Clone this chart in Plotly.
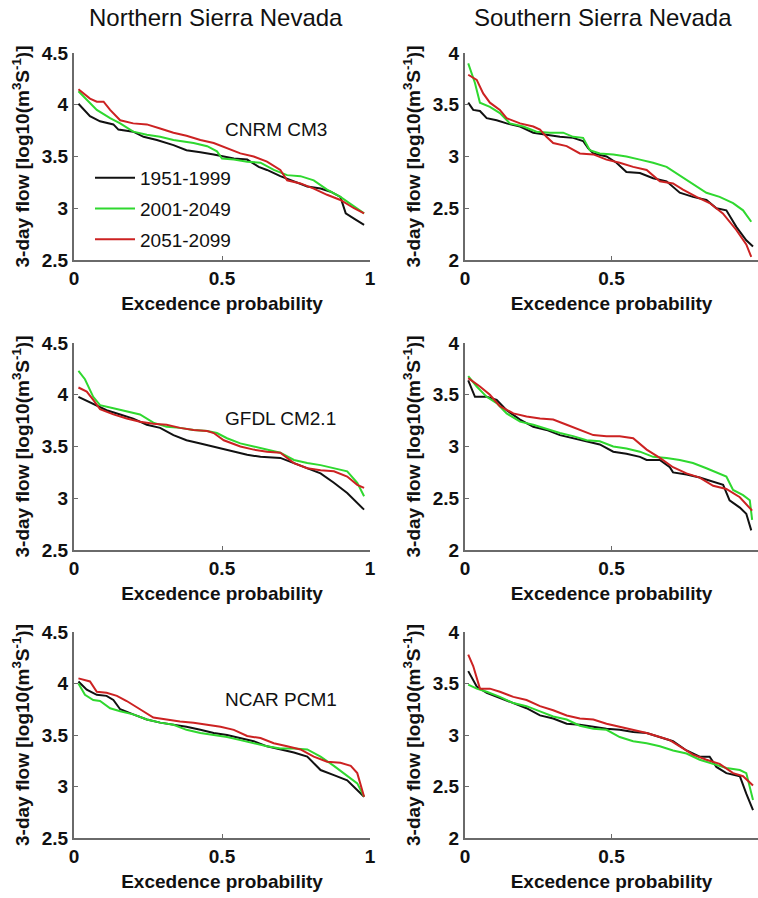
import plotly.graph_objects as go

W, H = 758, 898

periods = ["1951-1999", "2001-2049", "2051-2099"]
colors = ["#111111", "#2fd82f", "#cc2222"]
models = ["CNRM CM3", "GFDL CM2.1", "NCAR PCM1"]
regions = ["Northern Sierra Nevada", "Southern Sierra Nevada"]

# ---- Northern Sierra Nevada, CNRM CM3 ----
n_cnrm_1951_x = [0.015, 0.054, 0.088, 0.133, 0.15, 0.2, 0.235, 0.28, 0.336, 0.38, 0.427, 0.472, 0.54, 0.585, 0.624, 0.652, 0.697, 0.743, 0.788, 0.833, 0.867, 0.9, 0.918, 0.946, 0.98]
n_cnrm_1951_y = [4.01, 3.89, 3.84, 3.81, 3.76, 3.74, 3.69, 3.66, 3.61, 3.56, 3.54, 3.52, 3.48, 3.47, 3.40, 3.37, 3.31, 3.26, 3.21, 3.19, 3.16, 3.11, 2.95, 2.90, 2.84]
n_cnrm_2001_x = [0.015, 0.043, 0.077, 0.122, 0.156, 0.2, 0.246, 0.291, 0.336, 0.404, 0.45, 0.483, 0.5, 0.54, 0.585, 0.63, 0.675, 0.72, 0.765, 0.81, 0.855, 0.9, 0.946, 0.98]
n_cnrm_2001_y = [4.13, 4.05, 3.95, 3.87, 3.82, 3.74, 3.71, 3.69, 3.66, 3.63, 3.60, 3.55, 3.48, 3.47, 3.45, 3.44, 3.37, 3.32, 3.31, 3.27, 3.18, 3.11, 3.02, 2.95]
n_cnrm_2051_x = [0.015, 0.054, 0.077, 0.1, 0.122, 0.156, 0.2, 0.246, 0.291, 0.336, 0.38, 0.427, 0.472, 0.517, 0.562, 0.607, 0.652, 0.697, 0.72, 0.765, 0.81, 0.855, 0.9, 0.946, 0.98]
n_cnrm_2051_y = [4.15, 4.06, 4.03, 4.03, 3.95, 3.85, 3.82, 3.81, 3.77, 3.73, 3.70, 3.66, 3.63, 3.58, 3.53, 3.50, 3.45, 3.37, 3.27, 3.24, 3.19, 3.13, 3.08, 3.00, 2.95]

# ---- Southern Sierra Nevada, CNRM CM3 ----
s_cnrm_1951_x = [0.011, 0.028, 0.051, 0.074, 0.108, 0.142, 0.188, 0.233, 0.278, 0.324, 0.369, 0.403, 0.42, 0.438, 0.483, 0.517, 0.551, 0.597, 0.642, 0.688, 0.733, 0.778, 0.824, 0.858, 0.892, 0.926, 0.96, 0.983]
s_cnrm_1951_y = [3.52, 3.45, 3.44, 3.37, 3.35, 3.32, 3.29, 3.23, 3.21, 3.19, 3.18, 3.15, 3.08, 3.03, 3.00, 2.94, 2.85, 2.84, 2.79, 2.76, 2.65, 2.61, 2.58, 2.50, 2.48, 2.32, 2.19, 2.13]
s_cnrm_2001_x = [0.011, 0.034, 0.051, 0.085, 0.119, 0.153, 0.199, 0.244, 0.29, 0.335, 0.369, 0.403, 0.426, 0.46, 0.506, 0.551, 0.597, 0.642, 0.688, 0.733, 0.778, 0.824, 0.869, 0.915, 0.949, 0.977]
s_cnrm_2001_y = [3.90, 3.71, 3.52, 3.48, 3.42, 3.32, 3.29, 3.24, 3.23, 3.23, 3.19, 3.18, 3.06, 3.03, 3.02, 3.00, 2.97, 2.94, 2.90, 2.82, 2.74, 2.65, 2.61, 2.55, 2.48, 2.37]
s_cnrm_2051_x = [0.011, 0.04, 0.062, 0.085, 0.119, 0.142, 0.188, 0.233, 0.256, 0.278, 0.301, 0.347, 0.392, 0.438, 0.483, 0.528, 0.574, 0.62, 0.665, 0.71, 0.744, 0.79, 0.835, 0.88, 0.926, 0.96, 0.977]
s_cnrm_2051_y = [3.79, 3.74, 3.61, 3.52, 3.45, 3.37, 3.32, 3.29, 3.26, 3.19, 3.13, 3.10, 3.03, 3.02, 2.97, 2.94, 2.90, 2.87, 2.76, 2.74, 2.68, 2.61, 2.55, 2.45, 2.29, 2.15, 2.03]

# ---- Northern Sierra Nevada, GFDL CM2.1 ----
n_gfdl_1951_x = [0.015, 0.043, 0.077, 0.11, 0.156, 0.2, 0.246, 0.291, 0.336, 0.38, 0.427, 0.472, 0.54, 0.585, 0.63, 0.697, 0.743, 0.788, 0.833, 0.878, 0.923, 0.98]
n_gfdl_1951_y = [3.98, 3.94, 3.89, 3.85, 3.81, 3.77, 3.71, 3.68, 3.61, 3.56, 3.53, 3.50, 3.45, 3.42, 3.40, 3.39, 3.34, 3.29, 3.24, 3.15, 3.05, 2.89]
n_gfdl_2001_x = [0.015, 0.037, 0.065, 0.088, 0.133, 0.178, 0.223, 0.268, 0.313, 0.358, 0.404, 0.45, 0.483, 0.517, 0.562, 0.607, 0.652, 0.697, 0.743, 0.788, 0.833, 0.878, 0.923, 0.957, 0.98]
n_gfdl_2001_y = [4.23, 4.15, 3.98, 3.90, 3.87, 3.84, 3.81, 3.73, 3.69, 3.68, 3.66, 3.65, 3.63, 3.58, 3.53, 3.50, 3.47, 3.44, 3.37, 3.34, 3.32, 3.29, 3.26, 3.15, 3.02]
n_gfdl_2051_x = [0.015, 0.043, 0.065, 0.088, 0.133, 0.178, 0.223, 0.268, 0.313, 0.358, 0.404, 0.45, 0.472, 0.506, 0.562, 0.607, 0.652, 0.697, 0.743, 0.788, 0.833, 0.878, 0.923, 0.957, 0.98]
n_gfdl_2051_y = [4.07, 4.03, 3.95, 3.86, 3.81, 3.77, 3.74, 3.72, 3.71, 3.68, 3.66, 3.65, 3.63, 3.56, 3.50, 3.47, 3.45, 3.44, 3.34, 3.29, 3.27, 3.26, 3.21, 3.13, 3.10]

# ---- Southern Sierra Nevada, GFDL CM2.1 ----
s_gfdl_1951_x = [0.011, 0.034, 0.074, 0.108, 0.142, 0.188, 0.233, 0.278, 0.324, 0.369, 0.415, 0.46, 0.506, 0.551, 0.597, 0.62, 0.665, 0.699, 0.71, 0.756, 0.801, 0.847, 0.881, 0.903, 0.938, 0.96, 0.977]
s_gfdl_1951_y = [3.64, 3.48, 3.48, 3.45, 3.35, 3.26, 3.19, 3.16, 3.11, 3.08, 3.05, 3.02, 2.95, 2.93, 2.90, 2.87, 2.87, 2.80, 2.75, 2.73, 2.70, 2.66, 2.63, 2.48, 2.41, 2.35, 2.19]
s_gfdl_2001_x = [0.011, 0.04, 0.074, 0.108, 0.142, 0.188, 0.233, 0.278, 0.324, 0.369, 0.415, 0.46, 0.506, 0.551, 0.597, 0.642, 0.688, 0.733, 0.778, 0.824, 0.869, 0.892, 0.915, 0.949, 0.972, 0.98]
s_gfdl_2001_y = [3.68, 3.58, 3.48, 3.42, 3.32, 3.24, 3.21, 3.17, 3.13, 3.10, 3.06, 3.05, 3.00, 2.98, 2.95, 2.90, 2.89, 2.87, 2.84, 2.79, 2.74, 2.71, 2.58, 2.53, 2.48, 2.29]
s_gfdl_2051_x = [0.011, 0.051, 0.085, 0.119, 0.165, 0.21, 0.256, 0.301, 0.347, 0.392, 0.438, 0.483, 0.528, 0.574, 0.62, 0.665, 0.71, 0.756, 0.801, 0.847, 0.892, 0.938, 0.98]
s_gfdl_2051_y = [3.66, 3.58, 3.50, 3.39, 3.32, 3.29, 3.27, 3.26, 3.21, 3.16, 3.11, 3.10, 3.10, 3.08, 2.97, 2.89, 2.80, 2.74, 2.70, 2.62, 2.59, 2.51, 2.38]

# ---- Northern Sierra Nevada, NCAR PCM1 ----
n_ncar_1951_x = [0.015, 0.043, 0.077, 0.11, 0.133, 0.156, 0.2, 0.246, 0.291, 0.336, 0.38, 0.427, 0.472, 0.517, 0.562, 0.607, 0.652, 0.697, 0.743, 0.788, 0.81, 0.833, 0.878, 0.923, 0.98]
n_ncar_1951_y = [4.02, 3.94, 3.89, 3.88, 3.84, 3.75, 3.70, 3.65, 3.62, 3.60, 3.58, 3.55, 3.52, 3.50, 3.47, 3.44, 3.39, 3.36, 3.33, 3.29, 3.23, 3.16, 3.11, 3.06, 2.90]
n_ncar_2001_x = [0.015, 0.037, 0.065, 0.088, 0.122, 0.156, 0.2, 0.246, 0.291, 0.336, 0.38, 0.427, 0.472, 0.517, 0.562, 0.607, 0.652, 0.697, 0.743, 0.788, 0.833, 0.878, 0.923, 0.957, 0.98]
n_ncar_2001_y = [4.00, 3.89, 3.84, 3.83, 3.76, 3.73, 3.70, 3.65, 3.62, 3.60, 3.55, 3.52, 3.50, 3.48, 3.45, 3.42, 3.39, 3.37, 3.37, 3.36, 3.29, 3.20, 3.10, 3.03, 2.90]
n_ncar_2051_x = [0.015, 0.054, 0.077, 0.11, 0.145, 0.178, 0.223, 0.268, 0.313, 0.358, 0.404, 0.45, 0.495, 0.54, 0.585, 0.63, 0.675, 0.72, 0.765, 0.81, 0.855, 0.9, 0.935, 0.957, 0.98]
n_ncar_2051_y = [4.05, 4.02, 3.92, 3.91, 3.88, 3.83, 3.75, 3.67, 3.65, 3.63, 3.62, 3.60, 3.58, 3.55, 3.49, 3.47, 3.42, 3.39, 3.36, 3.29, 3.24, 3.23, 3.20, 3.13, 2.90]

# ---- Southern Sierra Nevada, NCAR PCM1 ----
s_ncar_1951_x = [0.011, 0.04, 0.074, 0.119, 0.165, 0.21, 0.256, 0.301, 0.347, 0.392, 0.438, 0.483, 0.528, 0.574, 0.62, 0.665, 0.71, 0.756, 0.801, 0.835, 0.858, 0.892, 0.938, 0.96, 0.983]
s_ncar_1951_y = [3.62, 3.47, 3.41, 3.36, 3.31, 3.26, 3.19, 3.16, 3.11, 3.10, 3.08, 3.06, 3.05, 3.03, 3.02, 2.98, 2.94, 2.85, 2.79, 2.79, 2.69, 2.63, 2.60, 2.43, 2.27]
s_ncar_2001_x = [0.011, 0.04, 0.074, 0.119, 0.165, 0.21, 0.256, 0.301, 0.347, 0.392, 0.438, 0.483, 0.528, 0.574, 0.62, 0.665, 0.71, 0.756, 0.801, 0.847, 0.892, 0.938, 0.96, 0.983]
s_ncar_2001_y = [3.49, 3.45, 3.42, 3.37, 3.31, 3.28, 3.23, 3.18, 3.15, 3.09, 3.06, 3.05, 2.98, 2.94, 2.92, 2.89, 2.85, 2.82, 2.76, 2.72, 2.68, 2.66, 2.63, 2.37]
s_ncar_2051_x = [0.011, 0.028, 0.051, 0.085, 0.119, 0.165, 0.21, 0.256, 0.301, 0.347, 0.392, 0.438, 0.483, 0.528, 0.574, 0.62, 0.665, 0.699, 0.733, 0.778, 0.824, 0.869, 0.915, 0.949, 0.983]
s_ncar_2051_y = [3.78, 3.67, 3.45, 3.45, 3.42, 3.37, 3.34, 3.28, 3.24, 3.19, 3.16, 3.15, 3.11, 3.08, 3.05, 3.02, 2.98, 2.95, 2.89, 2.81, 2.76, 2.72, 2.63, 2.60, 2.51]

panels = [
    (0, 0, [(n_cnrm_1951_x, n_cnrm_1951_y), (n_cnrm_2001_x, n_cnrm_2001_y), (n_cnrm_2051_x, n_cnrm_2051_y)]),
    (0, 1, [(s_cnrm_1951_x, s_cnrm_1951_y), (s_cnrm_2001_x, s_cnrm_2001_y), (s_cnrm_2051_x, s_cnrm_2051_y)]),
    (1, 0, [(n_gfdl_1951_x, n_gfdl_1951_y), (n_gfdl_2001_x, n_gfdl_2001_y), (n_gfdl_2051_x, n_gfdl_2051_y)]),
    (1, 1, [(s_gfdl_1951_x, s_gfdl_1951_y), (s_gfdl_2001_x, s_gfdl_2001_y), (s_gfdl_2051_x, s_gfdl_2051_y)]),
    (2, 0, [(n_ncar_1951_x, n_ncar_1951_y), (n_ncar_2001_x, n_ncar_2001_y), (n_ncar_2051_x, n_ncar_2051_y)]),
    (2, 1, [(s_ncar_1951_x, s_ncar_1951_y), (s_ncar_2001_x, s_ncar_2001_y), (s_ncar_2051_x, s_ncar_2051_y)]),
]

x_tickvals = [0, 0.5, 1]
x_ticktext = ["0", "0.5", "1"]
y_ticks_north = [2.5, 3, 3.5, 4, 4.5]
y_ticks_south = [2, 2.5, 3, 3.5, 4]

# panel pixel geometry (left, right, top, bottom)
col_px = [(74, 370), (465, 758)]
row_px = [(53, 260), (343, 550), (632, 838)]

fig = go.Figure()
axis_color = "#6a6a6a"
FONT = "Liberation Sans, Arial, sans-serif"
tick_font = dict(family=FONT, size=19, color="#111111", weight="bold")
title_font = dict(family=FONT, size=19, color="#111111", weight="bold")

layout = {}
for idx, (r, c, series) in enumerate(panels):
    n = idx + 1
    xa = "xaxis" if n == 1 else f"xaxis{n}"
    ya = "yaxis" if n == 1 else f"yaxis{n}"
    xr = "x" if n == 1 else f"x{n}"
    yr = "y" if n == 1 else f"y{n}"
    for k, (xs, ys) in enumerate(series):
        fig.add_trace(go.Scatter(
            x=xs, y=ys, mode="lines", xaxis=xr, yaxis=yr,
            line=dict(color=colors[k], width=2),
            name=periods[k], showlegend=(idx == 0),
            legendgroup=periods[k],
        ))
    l, rr = col_px[c]
    t, b = row_px[r]
    yticks = y_ticks_north if c == 0 else y_ticks_south
    layout[xa] = dict(
        domain=[l / W, rr / W], range=[0, 1], anchor=yr, automargin=False,
        showline=True, linecolor=axis_color, linewidth=2, mirror=False,
        ticks="inside", ticklen=4, tickcolor=axis_color, tickwidth=1,
        tickvals=x_tickvals, ticktext=x_ticktext, tickfont=tick_font,
        showgrid=False, zeroline=False,
        title=dict(text="Excedence probability", font=title_font, standoff=9),
    )
    layout[ya] = dict(
        domain=[1 - b / H, 1 - t / H], range=[yticks[0], yticks[-1]], anchor=xr, automargin=False,
        showline=True, linecolor=axis_color, linewidth=2, mirror=False,
        ticks="inside", ticklen=4, tickcolor=axis_color, tickwidth=1,
        tickvals=yticks, tickfont=tick_font,
        showgrid=False, zeroline=False,
        title=dict(text="3-day flow [log10(m<sup>3</sup>S<sup>-1</sup>)]", font=title_font, standoff=7),
    )

annotations = []
for c, name in enumerate(regions):
    cx = (216 if c == 0 else 603) / W
    annotations.append(dict(
        text=name, x=cx, y=1 - 18 / H, xref="paper", yref="paper",
        xanchor="center", yanchor="middle", showarrow=False,
        font=dict(family=FONT, size=24, color="#111111"),
    ))
model_pos = [("x", "y", 3.756), ("x3", "y3", 3.775), ("x5", "y5", 3.84)]
for (xr, yr, yv), m in zip(model_pos, models):
    annotations.append(dict(
        text=m, x=0.503, y=yv, xref=f"{xr} domain", yref=yr,
        xanchor="left", yanchor="middle", showarrow=False,
        font=dict(family=FONT, size=19, color="#111111"),
    ))

fig.update_layout(
    width=W, height=H,
    margin=dict(l=0, r=0, t=0, b=0),
    paper_bgcolor="white", plot_bgcolor="white",
    showlegend=True,
    legend=dict(
        x=90 / W, y=1 - 159 / H, xanchor="left", yanchor="top",
        bgcolor="rgba(0,0,0,0)", borderwidth=0,
        font=dict(family=FONT, size=19, color="#111111"),
        itemwidth=40, traceorder="grouped", tracegroupgap=3,
    ),
    annotations=annotations,
    **layout,
)

fig.write_html(
    "out.html",
    config={"displayModeBar": False},
    post_script="document.body.style.margin='0px';document.body.style.overflow='hidden';",
)
